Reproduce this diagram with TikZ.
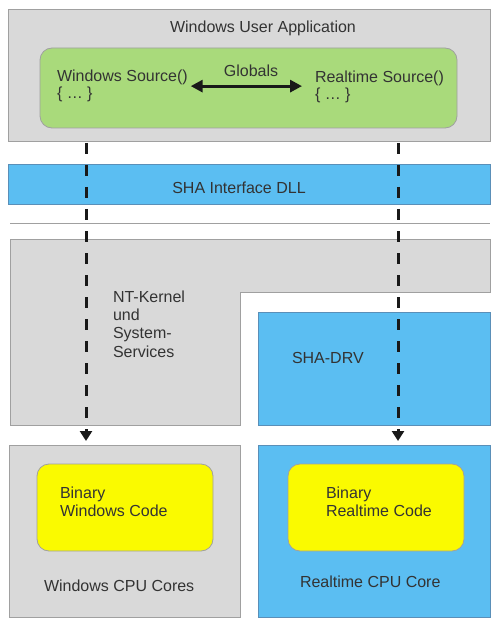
\documentclass[tikz,border=0pt]{standalone}
\usepackage{fontspec}
\setmainfont{Liberation Sans}
\usetikzlibrary{arrows.meta}
\definecolor{boxgray}{HTML}{D9D9D9}
\definecolor{linegray}{HTML}{A0A0A0}
\definecolor{shablue}{HTML}{5BBEF2}
\definecolor{blueline}{HTML}{5A8FB8}
\definecolor{appgreen}{HTML}{A9DA7B}
\definecolor{codeyellow}{HTML}{FAFA00}
\definecolor{txt}{HTML}{333333}
\begin{document}
\begin{tikzpicture}[x=1pt,y=-1pt,
  every node/.style={font=\fontsize{16}{18.3}\selectfont, text=txt, inner sep=0pt, outer sep=0pt},
  grayblock/.style={draw=linegray, fill=boxgray, line width=0.8pt},
  blueblock/.style={draw=blueline, fill=shablue, line width=0.8pt},
  greenbox/.style={draw=linegray, fill=appgreen, line width=0.8pt, rounded corners=12pt},
  yellowbox/.style={draw=linegray, fill=codeyellow, line width=0.8pt, rounded corners=12pt},
  lbl/.style={anchor=base west, align=left},
  flow/.style={line width=3pt, draw=black!90, dash pattern=on 11pt off 11pt,
    -{Triangle[width=12pt,length=10pt]}, shorten <=2pt, shorten >=4pt},
  dbl/.style={line width=3pt, draw=black!90,
    {Triangle[width=12pt,length=12pt]}-{Triangle[width=12pt,length=12pt]}}
]
\useasboundingbox (0,0) rectangle (500,628);

% top application box
\node[grayblock, anchor=north west, minimum width=482pt, minimum height=132pt] (app) at (8,9) {};
\node[anchor=base] (apptitle) at (263,33) {Windows User Application};
\node[greenbox, anchor=north west, minimum width=417pt, minimum height=80pt] (src) at (40,48) {};
\node[lbl, font=\fontsize{16}{16.5}\selectfont] (wsrc) at (57,98.5) {Windows Source()\\\{ … \}};
\node[lbl, font=\fontsize{16}{16.5}\selectfont] (rsrc) at (315,99.5) {Realtime Source()\\\{ … \}};
\node[anchor=base] (glob) at (251,77) {Globals};
\draw[dbl] ([xshift=3pt]wsrc.east) -- ([xshift=-13pt]wsrc.east -| rsrc.west);

% DLL bar
\node[blueblock, anchor=north west, minimum width=482pt, minimum height=40pt] (dll) at (8,164) {};
\node[anchor=base] (dlltext) at (239,194) {SHA Interface DLL};

% separator
\draw[linegray, line width=0.8pt] (10,223) -- (490,223);

% NT kernel L-shape
\draw[grayblock] (10,239) -- (490,239) -- (490,292) -- (240,292) -- (240,425) -- (10,425) -- cycle;
\node[lbl] (nttext) at (113,357) {NT-Kernel\\und\\System-\\Services};

% SHA-DRV
\node[blueblock, anchor=north west, minimum width=232pt, minimum height=113pt] (drv) at (258,312) {};
\node[lbl] (drvtext) at (292,363) {SHA-DRV};

% CPU boxes
\node[grayblock, anchor=north west, minimum width=231pt, minimum height=172pt] (wincpu) at (9,445) {};
\node[blueblock, anchor=north west, minimum width=232pt, minimum height=172pt] (rtcpu) at (258,445) {};
\node[yellowbox, anchor=north west, minimum width=176pt, minimum height=87pt] (wincode) at (37,464) {};
\node[yellowbox, anchor=north west, minimum width=176pt, minimum height=87pt] (rtcode) at (288,464) {};
\node[lbl, font=\fontsize{16}{18}\selectfont] (wincodetext) at (60,516) {Binary\\Windows Code};
\node[lbl, font=\fontsize{16}{18}\selectfont] (rtcodetext) at (326,516) {Binary\\Realtime Code};
\node[lbl] (wincputext) at (44,591) {Windows CPU Cores};
\node[lbl] (rtcputext) at (300,587) {Realtime CPU Core};

% dashed flows
\coordinate (lx) at (86,0);
\coordinate (rx) at (398,0);
\draw[flow] (app.south -| lx) -- (wincpu.north -| lx);
\draw[flow] (app.south -| rx) -- (rtcpu.north -| rx);
\end{tikzpicture}
\end{document}
